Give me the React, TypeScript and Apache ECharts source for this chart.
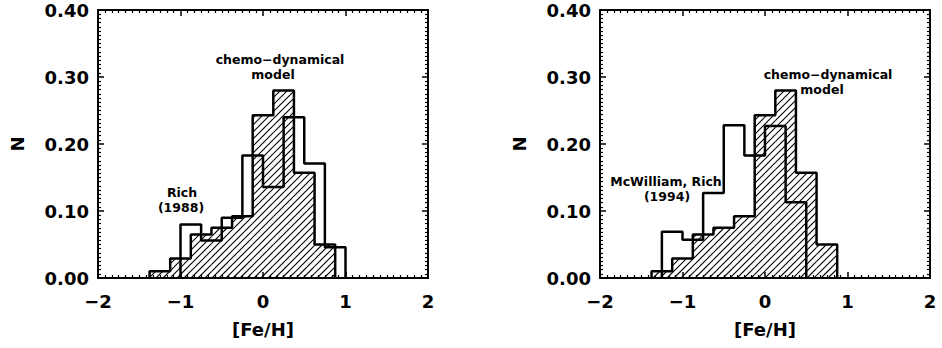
import React, { useEffect, useRef } from "react";
import * as echarts from "echarts";

// ---- data ----
// chemo-dynamical model (hatched), bin edges and fractions N
const modelEdges = [-1.375, -1.125, -0.875, -0.625, -0.375, -0.125, 0.125, 0.375, 0.625, 0.875];
const modelN = [0.01, 0.029, 0.065, 0.075, 0.092, 0.243, 0.28, 0.157, 0.05];
// Rich (1988), left panel
const richEdges = [-1.0, -0.75, -0.5, -0.25, 0, 0.25, 0.5, 0.75, 1.0];
const richN = [0.08, 0.056, 0.09, 0.183, 0.136, 0.24, 0.171, 0.046];
// McWilliam, Rich (1994), right panel
const mcwEdges = [-1.25, -1.0, -0.75, -0.5, -0.25, 0, 0.25, 0.5];
const mcwN = [0.069, 0.057, 0.127, 0.228, 0.183, 0.227, 0.113];

const xTicks = [-2, -1, 0, 1, 2];
const yTicks = [0, 0.1, 0.2, 0.3, 0.4];

const FONT = "DejaVu Sans";

function stepPoints(edges: number[], values: number[]): [number, number][] {
  const pts: [number, number][] = [[edges[0], 0]];
  for (let i = 0; i < values.length; i++) {
    pts.push([edges[i], values[i]]);
    pts.push([edges[i + 1], values[i]]);
  }
  pts.push([edges[edges.length - 1], 0]);
  return pts;
}

function binData(edges: number[], values: number[]) {
  return values.map((v, i) => [edges[i], edges[i + 1], v]);
}

const HATCH = 7;

function hatchRender(params: any, api: any) {
  const x0 = api.value(0);
  const x1 = api.value(1);
  const v = api.value(2);
  const tl = api.coord([x0, v]);
  const br = api.coord([x1, 0]);
  const left = tl[0], top = tl[1], right = br[0], bottom = br[1];
  const children: any[] = [];
  const cStart = Math.ceil((left + top) / HATCH) * HATCH;
  for (let c = cStart; c <= right + bottom; c += HATCH) {
    const lo = Math.max(left, c - bottom);
    const hi = Math.min(right, c - top);
    if (hi > lo) {
      children.push({
        type: "line",
        shape: { x1: lo, y1: c - lo, x2: hi, y2: c - hi },
        style: { stroke: "#000", lineWidth: 1.1 },
      });
    }
  }
  return { type: "group", children };
}

function xAxisCfg(grid: number, top: boolean) {
  return {
    type: "value",
    gridIndex: grid,
    position: top ? "top" : "bottom",
    min: xTicks[0],
    max: xTicks[xTicks.length - 1],
    interval: 1,
    name: top ? "" : "[Fe/H]",
    nameLocation: "middle",
    nameGap: 42,
    nameTextStyle: { fontFamily: FONT, fontSize: 18, fontWeight: "bold", color: "#000" },
    axisLine: { show: true, onZero: false, lineStyle: { color: "#000", width: 2 } },
    axisTick: { show: true, inside: true, length: 6, lineStyle: { color: "#000", width: 1.5 } },
    minorTick: { show: true, splitNumber: 12, length: 3, lineStyle: { color: "#000", width: 1.2 } },
    splitLine: { show: false },
    axisLabel: {
      show: !top,
      margin: 14,
      fontFamily: FONT,
      fontSize: 18,
      fontWeight: "bold",
      color: "#000",
      formatter: (v: number) => (v < 0 ? "\u2212" + Math.abs(v) : String(v)),
    },
  };
}

function yAxisCfg(grid: number, right: boolean) {
  return {
    type: "value",
    gridIndex: grid,
    position: right ? "right" : "left",
    min: yTicks[0],
    max: yTicks[yTicks.length - 1],
    interval: 0.1,
    name: right ? "" : "N",
    nameLocation: "middle",
    nameGap: 72,
    nameTextStyle: { fontFamily: FONT, fontSize: 18, fontWeight: "bold", color: "#000" },
    axisLine: { show: true, onZero: false, lineStyle: { color: "#000", width: 2 } },
    axisTick: { show: true, inside: true, length: 6, lineStyle: { color: "#000", width: 1.5 } },
    minorTick: { show: true, splitNumber: 16, length: 3, lineStyle: { color: "#000", width: 1.2 } },
    splitLine: { show: false },
    axisLabel: {
      show: !right,
      margin: 9,
      fontFamily: FONT,
      fontSize: 18,
      fontWeight: "bold",
      color: "#000",
      formatter: (v: number) => v.toFixed(2),
    },
  };
}

function txt(text: string, x: number, y: number) {
  return {
    type: "text",
    x,
    y,
    silent: true,
    style: {
      text,
      fill: "#000",
      fontFamily: FONT,
      fontSize: 12.5,
      fontWeight: "bold",
      align: "center",
      verticalAlign: "middle",
      textAlign: "center",
      textVerticalAlign: "middle",
    },
  };
}

export default function App() {
  const ref = useRef<HTMLDivElement>(null);
  useEffect(() => {
    document.body.style.margin = "0";
    const chart = echarts.init(ref.current!, null, { renderer: "svg" });
    const modelBins = binData(modelEdges, modelN);
    const lineStyle = { color: "#000", width: 2.5 };
    chart.setOption({
      animation: false,
      backgroundColor: "#fff",
      grid: [
        { left: 98, top: 10, width: 330, height: 268 },
        { left: 600, top: 10, width: 330, height: 268 },
      ],
      xAxis: [xAxisCfg(0, false), xAxisCfg(0, true), xAxisCfg(1, false), xAxisCfg(1, true)],
      yAxis: [yAxisCfg(0, false), yAxisCfg(0, true), yAxisCfg(1, false), yAxisCfg(1, true)],
      series: [
        {
          type: "custom",
          name: "model hatch L",
          xAxisIndex: 0,
          yAxisIndex: 0,
          data: modelBins,
          encode: { x: [0, 1], y: 2 },
          renderItem: hatchRender,
          silent: true,
          z: 1,
        },
        {
          type: "custom",
          name: "model hatch R",
          xAxisIndex: 2,
          yAxisIndex: 2,
          data: modelBins,
          encode: { x: [0, 1], y: 2 },
          renderItem: hatchRender,
          silent: true,
          z: 1,
        },
        {
          type: "line",
          name: "chemo-dynamical model",
          xAxisIndex: 0,
          yAxisIndex: 0,
          data: stepPoints(modelEdges, modelN),
          symbol: "none",
          lineStyle,
          z: 3,
        },
        {
          type: "line",
          name: "Rich (1988)",
          xAxisIndex: 0,
          yAxisIndex: 0,
          data: stepPoints(richEdges, richN),
          symbol: "none",
          lineStyle,
          z: 3,
        },
        {
          type: "line",
          name: "chemo-dynamical model ",
          xAxisIndex: 2,
          yAxisIndex: 2,
          data: stepPoints(modelEdges, modelN),
          symbol: "none",
          lineStyle,
          z: 3,
        },
        {
          type: "line",
          name: "McWilliam, Rich (1994)",
          xAxisIndex: 2,
          yAxisIndex: 2,
          data: stepPoints(mcwEdges, mcwN),
          symbol: "none",
          lineStyle,
          z: 3,
        },
      ],
      graphic: [
        txt("chemo\u2212dynamical", 280, 59),
        txt("model", 273, 74),
        txt("Rich", 182, 192.5),
        txt("(1988)", 181, 207.5),
        txt("chemo\u2212dynamical", 828, 74),
        txt("model", 822, 89),
        txt("McWilliam, Rich", 666, 181),
        txt("(1994)", 667, 196),
      ],
    });
    return () => chart.dispose();
  }, []);
  return <div ref={ref} style={{ width: 942, height: 348 }} />;
}
